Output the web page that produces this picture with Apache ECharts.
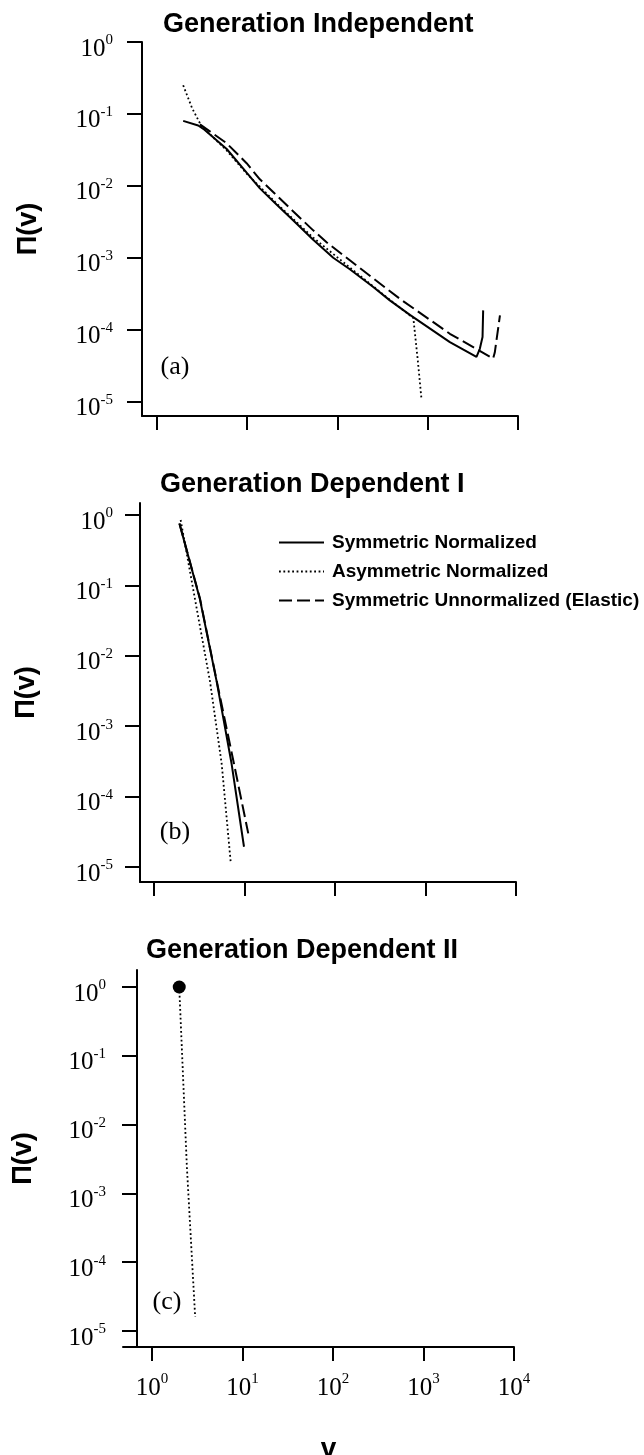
<!DOCTYPE html>
<html>
<head>
<meta charset="utf-8">
<script src="https://cdn.jsdelivr.net/npm/echarts@6/dist/echarts.min.js"></script>
<style>
  html, body { margin: 0; padding: 0; background: #fff; }
  #chart { width: 644px; height: 1455px; }
</style>
</head>
<body>
<div id="chart"></div>
<script>
// tick values (log axes)
var xTicks = [1, 10, 100, 1000, 10000];
var yTicks = [1, 0.1, 0.01, 0.001, 0.0001, 0.00001];

var seriesNames = ["Symmetric Normalized", "Asymmetric Normalized", "Symmetric Unnormalized (Elastic)"];
var panelTitles = ["Generation Independent", "Generation Dependent I", "Generation Dependent II"];
var panelTags = ["(a)", "(b)", "(c)"];

// (a) generation independent  [v, Pi(v)]
var aSymNorm = [[1.95, 0.080], [2.86, 0.069], [3.26, 0.062], [5.92, 0.0325], [9.84, 0.0152],
  [13.8, 0.0092], [21.1, 0.0055], [32.4, 0.0033], [53.8, 0.00178], [89.7, 0.00100],
  [137, 6.9e-4], [249, 3.92e-4], [380, 2.55e-4], [634, 1.6e-4], [1758, 6.7e-5],
  [3467, 4.16e-5], [3776, 5.4e-5], [4046, 7.9e-5], [4111, 1.85e-4]];
var aAsymNorm = [[1.95, 0.25], [2.45, 0.12], [3.1, 0.068], [5.92, 0.031], [9.84, 0.0148],
  [21.1, 0.0057], [53.8, 0.0019], [137, 7.3e-4], [380, 2.6e-4], [692, 1.45e-4],
  [776, 3.7e-5], [851, 1.1e-5]];
var aSymUnnorm = [[2.99, 0.0714], [5.92, 0.039], [9.84, 0.0206], [13.8, 0.0123], [21.1, 0.0074],
  [32.4, 0.0044], [53.8, 0.0024], [75.7, 0.00164], [137, 9.2e-4], [249, 5.16e-4],
  [491, 2.68e-4], [1758, 8.75e-5], [5300, 3.95e-5], [5530, 4.8e-5], [6310, 1.58e-4]];

// (b) generation dependent I
var bSymNorm = [[1.91, 0.76], [3.22, 0.0634], [4.93, 4.3e-3], [7.21, 2.9e-4], [9.87, 1.94e-5]];
var bAsymNorm = [[1.97, 0.85], [2.84, 0.0634], [4.16, 4.3e-3], [5.6, 2.9e-4], [7.03, 1.19e-5]];
var bSymUnnorm = [[1.91, 0.76], [3.22, 0.065], [4.93, 4.4e-3], [7.66, 2.9e-4], [11.0, 3.0e-5]];

// (c) generation dependent II
var cAsymNorm = [[2.0, 1.0], [2.43, 2.4e-3], [3.0, 1.6e-5]];
var cStart = [[2.0, 1.0]];

var serif = '"Liberation Serif", "Times New Roman", serif';
var sans = '"Liberation Sans", Arial, sans-serif';

function powLabel(val) {
  var e = Math.round(Math.log(val) / Math.LN10);
  return "{b|10}{s|" + e + "}";
}

var richPow = {
  b: { fontFamily: serif, fontSize: 25, color: "#000" },
  s: { fontFamily: serif, fontSize: 15, color: "#000", padding: [0, 0, 17, 0] }
};

var chartDom = document.getElementById("chart");
var myChart = echarts.init(chartDom, null, { renderer: "canvas" });

var grids = [
  { left: 142, top: 42, width: 376, height: 374 },
  { left: 140, top: 503, width: 376, height: 379 },
  { left: 123, top: 970, width: 391, height: 377 }
];
var xMinLog = [-0.1662, -0.1547, -0.3204];
var yRangeLog = [[-5.2017, 0], [-5.2131, 0.1705], [-5.2326, 0.2471]];
var yLabelMargin = [29, 27, 31];
var yOffset = [0, 0, -14];

var xAxes = [];
var yAxes = [];
for (var i = 0; i < 3; i++) {
  xAxes.push({
    type: "log",
    gridIndex: i,
    min: Math.pow(10, xMinLog[i]),
    max: 10000,
    axisLine: { show: true, lineStyle: { color: "#000", width: 2 } },
    axisTick: { show: true, length: 14, customValues: xTicks, lineStyle: { color: "#000", width: 2 } },
    axisLabel: {
      show: i === 2,
      customValues: xTicks,
      formatter: powLabel,
      margin: 25,
      rich: richPow
    },
    splitLine: { show: false },
    minorTick: { show: false },
    name: i === 2 ? "v" : "",
    nameLocation: "middle",
    nameGap: 88,
    nameTextStyle: { fontFamily: sans, fontWeight: "bold", fontSize: 28, color: "#000", padding: [0, 0, 0, 20] }
  });
  yAxes.push({
    type: "log",
    gridIndex: i,
    min: Math.pow(10, yRangeLog[i][0]),
    max: Math.pow(10, yRangeLog[i][1]),
    offset: yOffset[i],
    axisLine: { show: true, lineStyle: { color: "#000", width: 2 } },
    axisTick: { show: true, length: 15, customValues: yTicks, lineStyle: { color: "#000", width: 2 } },
    axisLabel: {
      customValues: yTicks,
      formatter: powLabel,
      margin: yLabelMargin[i],
      padding: [14, 0, 0, 0],
      rich: richPow
    },
    splitLine: { show: false },
    minorTick: { show: false },
    name: "\u03A0(v)",
    nameLocation: "middle",
    nameRotate: 90,
    nameGap: 100,
    nameTextStyle: { fontFamily: sans, fontWeight: "bold", fontSize: 27, color: "#000" }
  });
}

function lineSeries(name, idx, data, type, width) {
  return {
    name: name,
    type: "line",
    xAxisIndex: idx,
    yAxisIndex: idx,
    data: data,
    showSymbol: false,
    symbol: "none",
    smooth: false,
    silent: true,
    lineStyle: { color: "#000", width: width, type: type, cap: "butt" },
    itemStyle: { color: "#000" }
  };
}

var dashType = [13, 5];
var dotType = [1.8, 2.6];

var series = [
  lineSeries(seriesNames[0], 0, aSymNorm, "solid", 2),
  lineSeries(seriesNames[1], 0, aAsymNorm, dotType, 1.8),
  lineSeries(seriesNames[2], 0, aSymUnnorm, dashType, 2),
  lineSeries(seriesNames[0], 1, bSymNorm, "solid", 2),
  lineSeries(seriesNames[1], 1, bAsymNorm, dotType, 1.8),
  lineSeries(seriesNames[2], 1, bSymUnnorm, dashType, 2),
  lineSeries(seriesNames[1], 2, cAsymNorm, dotType, 1.8),
  {
    name: "start",
    type: "scatter",
    xAxisIndex: 2,
    yAxisIndex: 2,
    data: cStart,
    symbol: "circle",
    symbolSize: 13,
    silent: true,
    itemStyle: { color: "#000", opacity: 1 }
  }
];

var titleY = [25, 485, 951];
var titleX = [163, 160, 146];
var tagPos = [[175, 367], [175, 832], [167, 1302]];
var graphics = [];
for (var j = 0; j < 3; j++) {
  graphics.push({
    type: "text",
    x: titleX[j],
    y: titleY[j],
    style: { text: panelTitles[j], fill: "#000", font: "bold 27px " + sans, verticalAlign: "middle", align: "left" }
  });
  graphics.push({
    type: "text",
    x: tagPos[j][0],
    y: tagPos[j][1],
    style: { text: panelTags[j], fill: "#000", font: "26px " + serif, verticalAlign: "middle", align: "center" }
  });
}

var option = {
  animation: false,
  backgroundColor: "#fff",
  grid: grids.map(function (g) {
    return Object.assign({ containLabel: false, outerBoundsMode: "none" }, g);
  }),
  xAxis: xAxes,
  yAxis: yAxes,
  legend: {
    data: seriesNames,
    orient: "vertical",
    left: 273,
    top: 528,
    itemWidth: 45,
    itemHeight: 14,
    itemGap: 10,
    selectedMode: false,
    itemStyle: { opacity: 0 },
    textStyle: { fontFamily: sans, fontWeight: "bold", fontSize: 19, color: "#000", padding: [0, 0, 0, 3] }
  },
  graphic: graphics,
  series: series
};

option && myChart.setOption(option);
</script>
</body>
</html>
